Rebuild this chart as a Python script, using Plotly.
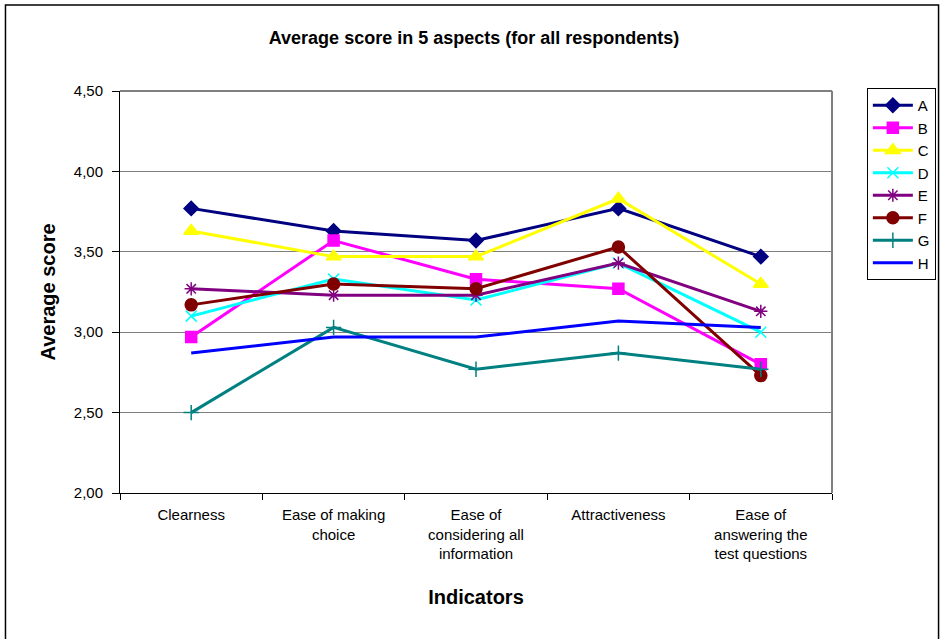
import plotly.graph_objects as go

# Indicator categories (x axis)
categories = [
    "Clearness",
    "Ease of making<br>choice",
    "Ease of<br>considering all<br>information",
    "Attractiveness",
    "Ease of<br>answering the<br>test questions",
]

# Average score per respondent group
series_a = [3.77, 3.63, 3.57, 3.77, 3.47]
series_b = [2.97, 3.57, 3.33, 3.27, 2.80]
series_c = [3.63, 3.47, 3.47, 3.83, 3.30]
series_d = [3.10, 3.33, 3.20, 3.43, 3.00]
series_e = [3.27, 3.23, 3.23, 3.43, 3.13]
series_f = [3.17, 3.30, 3.27, 3.53, 2.73]
series_g = [2.50, 3.03, 2.77, 2.87, 2.77]
series_h = [2.87, 2.97, 2.97, 3.07, 3.03]

# Y axis ticks (comma decimal separator)
y_tick_values = [2.0, 2.5, 3.0, 3.5, 4.0, 4.5]
y_tick_labels = ["2,00", "2,50", "3,00", "3,50", "4,00", "4,50"]

series = [
    ("A", series_a, "#000080", "diamond", 11),
    ("B", series_b, "#FF00FF", "square", 11),
    ("C", series_c, "#FFFF00", "triangle-up", 13),
    ("D", series_d, "#00FFFF", "x-thin", 11),
    ("E", series_e, "#800080", "asterisk", 11),
    ("F", series_f, "#800000", "circle", 12),
    ("G", series_g, "#008080", "cross-thin", 11),
    ("H", series_h, "#0000FF", None, 0),
]

fig = go.Figure()
for name, vals, color, symbol, size in series:
    if symbol is None:
        marker = dict(size=1, opacity=0)
        mode = "lines"
    else:
        marker = dict(symbol=symbol, size=size, color=color,
                      line=dict(color=color, width=1.5))
        mode = "lines+markers"
    fig.add_trace(go.Scatter(
        x=categories, y=vals, name=name, mode=mode,
        line=dict(color=color, width=3),
        marker=marker, legendgroup=name,
    ))

L, R, T, B = 120, 113, 91, 146
W, H = 948, 639
pw, ph = W - L - R, H - T - B


def px_x(x):
    return (x - L) / pw


def px_y(y):
    return (H - B - y) / ph


fig.update_layout(
    width=W, height=H,
    margin=dict(l=L, r=R, t=T, b=B, pad=0),
    paper_bgcolor="white", plot_bgcolor="white",
    font=dict(family="Liberation Sans, Arial, sans-serif", size=15, color="black"),
    title=dict(
        text="<b>Average score in 5 aspects (for all respondents)</b>",
        x=0.5, xanchor="center", y=1 - 38 / H, yanchor="middle",
        font=dict(size=18),
    ),
    showlegend=True,
    legend=dict(
        x=px_x(870), y=px_y(88), xanchor="left", yanchor="top",
        bordercolor="black", borderwidth=1, bgcolor="white",
        font=dict(size=15), itemwidth=40, tracegroupgap=3,
        traceorder="normal",
    ),
    xaxis=dict(
        showline=True, linecolor="black", linewidth=1, mirror=False,
        ticks="outside", ticklen=6, tickcolor="black", tickson="boundaries",
        showgrid=False, range=[-0.5, 4.5], ticklabelstandoff=8,
        title=dict(text="<b>Indicators</b>", font=dict(size=20), standoff=28),
        tickfont=dict(size=15),
    ),
    yaxis=dict(
        range=[2.0, 4.5], tickvals=y_tick_values, ticktext=y_tick_labels,
        showline=True, linecolor="black", linewidth=1,
        ticks="outside", ticklen=7, tickcolor="black",
        showgrid=True, gridcolor="#808080", gridwidth=1,
        zeroline=False, ticklabelstandoff=6,
        title=dict(text="<b>Average score</b>", font=dict(size=20), standoff=12),
        tickfont=dict(size=15),
    ),
    shapes=[
        # plot area frame (top and right edges)
        dict(type="line", xref="paper", yref="paper", x0=0, x1=1, y0=1, y1=1,
             line=dict(color="black", width=1)),
        dict(type="line", xref="paper", yref="paper", x0=1, x1=1, y0=0, y1=1,
             line=dict(color="#808080", width=2)),
        # outer chart border
        dict(type="rect", xref="paper", yref="paper",
             x0=px_x(5), x1=px_x(942), y0=px_y(645), y1=px_y(5),
             line=dict(color="black", width=1.5), fillcolor="rgba(0,0,0,0)",
             layer="below"),
    ],
)

fig.write_html("out.html")
